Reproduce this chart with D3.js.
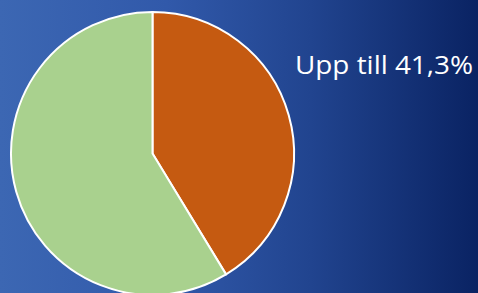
<!DOCTYPE html>
<html>
<head>
<meta charset="utf-8">
<script src="https://cdn.jsdelivr.net/npm/d3@7"></script>
<style>
  html, body { margin: 0; padding: 0; overflow: hidden; }
  svg { display: block; }
</style>
</head>
<body>
<svg id="chart" width="478" height="293"></svg>
<script>
// data
var labels = ["Upp till", "Resten"];
var values = [41.3, 58.7];
var colors = ["#c55a11", "#a9d18e"];
var caption = "Upp till 41,3%";

var svg = d3.select("#chart");
var width = +svg.attr("width");
var height = +svg.attr("height");

// bakgrund, gradient vänster -> höger
var defs = svg.append("defs");
var grad = defs.append("linearGradient")
  .attr("id", "bg")
  .attr("x1", "0%").attr("y1", "0%")
  .attr("x2", "100%").attr("y2", "0%");
grad.append("stop").attr("offset", "0%").attr("stop-color", "#3c67b3");
grad.append("stop").attr("offset", "35%").attr("stop-color", "#3159aa");
grad.append("stop").attr("offset", "65%").attr("stop-color", "#21448f");
grad.append("stop").attr("offset", "100%").attr("stop-color", "#0a2363");

svg.append("rect")
  .attr("width", width)
  .attr("height", height)
  .attr("fill", "url(#bg)");

var radius = 141.5;
var g = svg.append("g").attr("transform", "translate(152.5,153.5)");

var pie = d3.pie().sort(null).value(function (d) { return d; });
var arc = d3.arc().innerRadius(0).outerRadius(radius);

g.selectAll("path")
  .data(pie(values))
  .enter()
  .append("path")
  .attr("d", arc)
  .attr("fill", function (d, i) { return colors[i]; })
  .attr("stroke", "#ffffff")
  .attr("stroke-width", 2)
  .attr("stroke-linejoin", "round");

// etikett
var label = svg.append("text")
  .attr("x", 295)
  .attr("y", 74)
  .attr("fill", "#ffffff")
  .style("font-family", "'Open Sans', sans-serif")
  .style("font-size", "26px")
  .text(caption);

// bredden som i originalet (ca 178 px)
var w = label.node().getComputedTextLength();
if (Math.abs(w - 178) > 2) {
  label.attr("textLength", 178).attr("lengthAdjust", "spacingAndGlyphs");
}
</script>
</body>
</html>
